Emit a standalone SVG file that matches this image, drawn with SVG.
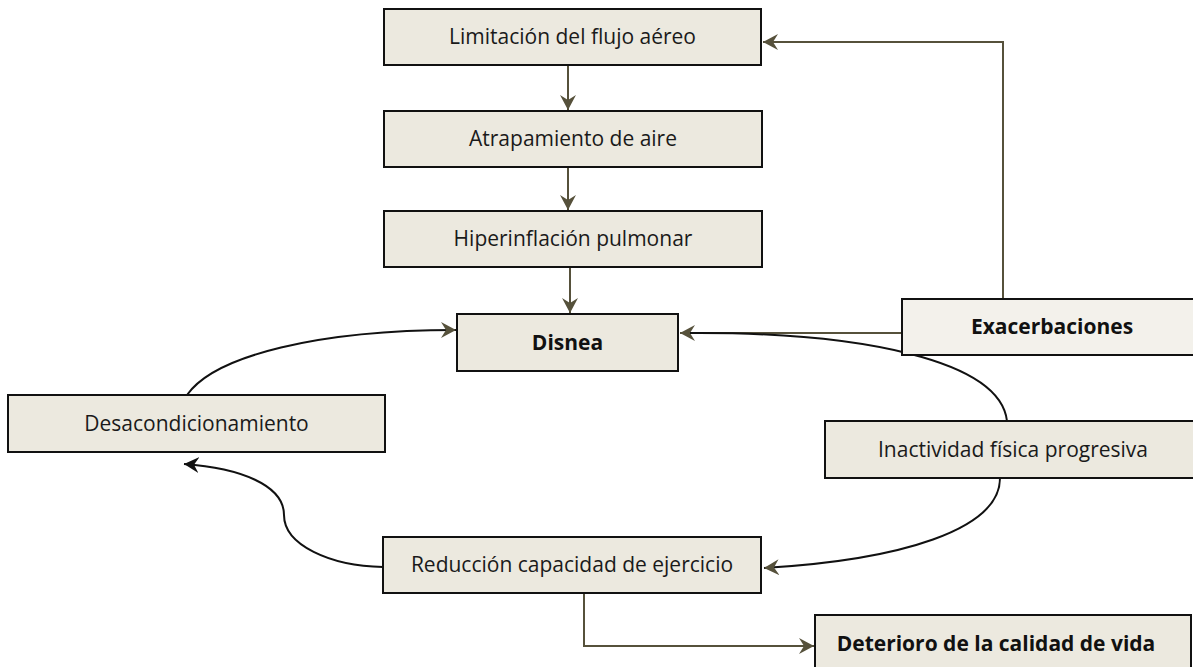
<svg xmlns="http://www.w3.org/2000/svg" width="1193" height="667" viewBox="0 0 1193 667">
<defs>
<style>
.box{fill:#ECE9DF;stroke:#111;stroke-width:2}
.light{fill:#F3F1EB}
.t{font-family:"Open Sans","Liberation Sans",sans-serif;font-size:21px;fill:#1a1a1a;text-anchor:middle}
.b{font-weight:bold;fill:#111}
.ol{fill:none;stroke:#56513B;stroke-width:2}
.bk{fill:none;stroke:#111;stroke-width:2}
</style>
<marker id="ao" markerUnits="userSpaceOnUse" markerWidth="18" markerHeight="18" refX="15" refY="8" orient="auto">
<path d="M0,0 L15,8 L0,16 L5,8 z" fill="#56513B"/>
</marker>
<marker id="ak" markerUnits="userSpaceOnUse" markerWidth="18" markerHeight="18" refX="15" refY="8" orient="auto">
<path d="M0,0 L15,8 L0,16 L5,8 z" fill="#111"/>
</marker>
</defs>
<rect width="1193" height="667" fill="#fff"/>
<g id="connectors">
<line class="ol" x1="568" y1="65" x2="568" y2="110" marker-end="url(#ao)"/>
<line class="ol" x1="568" y1="167" x2="568" y2="210" marker-end="url(#ao)"/>
<line class="ol" x1="570" y1="267" x2="570" y2="313" marker-end="url(#ao)"/>
<polyline class="ol" points="1003,299 1003,42 763,42" marker-end="url(#ao)"/>
<line class="ol" x1="902" y1="333" x2="680" y2="333" marker-end="url(#ao)"/>
<path class="bk" d="M690,333 C860,332 1000,360 1007,421"/>
<path class="bk" d="M1000,478 C1000,530 900,560 764,568" marker-end="url(#ao)"/>
<path class="bk" d="M383,567 C330,566 284,545 284,515 C284,485 240,468 184,464" marker-end="url(#ak)"/>
<path class="bk" d="M187,395 C215,355 320,330 456,330" marker-end="url(#ao)"/>
<polyline class="ol" points="584,593 584,646 814,646" marker-end="url(#ao)"/>
</g>
<g id="n-limitacion"><rect class="box" x="384" y="9" width="377" height="56"/><text class="t" x="572.5" y="44">Limitación del flujo aéreo</text></g>
<g id="n-atrapamiento"><rect class="box" x="384" y="111" width="378" height="56"/><text class="t" x="573" y="146">Atrapamiento de aire</text></g>
<g id="n-hiperinflacion"><rect class="box" x="384" y="211" width="378" height="56"/><text class="t" x="573" y="246">Hiperinflación pulmonar</text></g>
<g id="n-disnea"><rect class="box" x="457" y="314" width="221" height="57"/><text class="t b" x="567.5" y="350">Disnea</text></g>
<g id="n-exacerbaciones"><rect class="box light" x="902" y="299" width="295" height="56"/><text class="t b" x="1052" y="334">Exacerbaciones</text></g>
<g id="n-desacondicionamiento"><rect class="box" x="8" y="395" width="377" height="57"/><text class="t" x="196.5" y="431">Desacondicionamiento</text></g>
<g id="n-inactividad"><rect class="box" x="825" y="421" width="372" height="57"/><text class="t" x="1013" y="457">Inactividad física progresiva</text></g>
<g id="n-reduccion"><rect class="box" x="383" y="537" width="378" height="56"/><text class="t" x="572" y="572">Reducción capacidad de ejercicio</text></g>
<g id="n-deterioro"><rect class="box" x="815" y="615" width="376" height="60"/><text class="t b" x="996" y="651">Deterioro de la calidad de vida</text></g>
</svg>
